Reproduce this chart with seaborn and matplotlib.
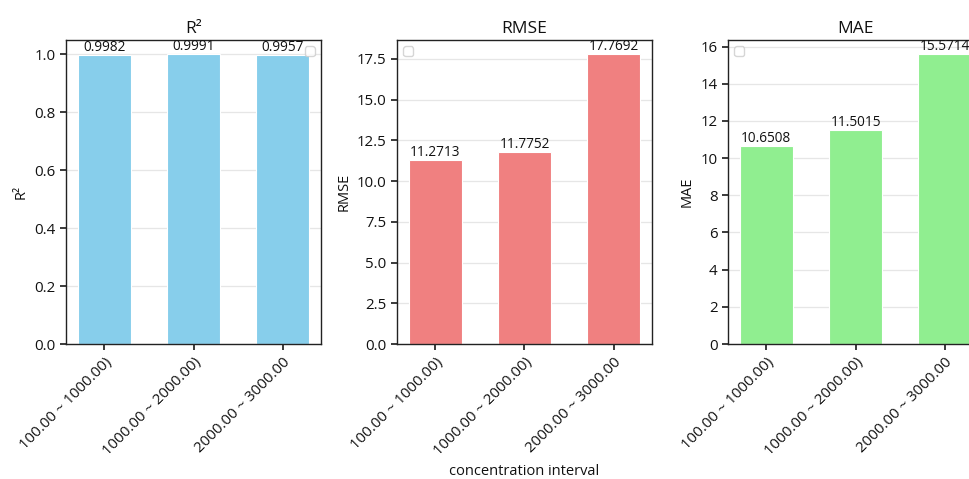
import matplotlib
matplotlib.use("Agg")
import matplotlib.pyplot as plt
import seaborn as sns
import pandas as pd

intervals = ["100.00 ~ 1000.00)", "1000.00 ~ 2000.00)", "2000.00 ~ 3000.00"]
r2_values = [0.9982, 0.9991, 0.9957]
rmse_values = [11.2713, 11.7752, 17.7692]
mae_values = [10.6508, 11.5015, 15.5714]

metrics = ["R²", "RMSE", "MAE"]
colors = ["skyblue", "lightcoral", "lightgreen"]
legend_locs = ["upper right", "upper left", "upper left"]

sns.set_theme(style="ticks")
plt.rcParams["font.family"] = ["Open Sans", "DejaVu Sans"]
plt.rcParams["text.color"] = "#111111"
plt.rcParams["axes.labelcolor"] = "#111111"
plt.rcParams["axes.edgecolor"] = "#222222"
plt.rcParams["xtick.color"] = "#222222"
plt.rcParams["ytick.color"] = "#222222"
plt.rcParams["xtick.labelcolor"] = "#111111"
plt.rcParams["ytick.labelcolor"] = "#111111"

fig = plt.figure(figsize=(9.69, 4.79), dpi=100)
W = 969.0
H = 479.0
lefts = [66 / W, 397 / W, 728 / W]

for i, (metric, vals, color, loc) in enumerate(
    zip(metrics, [r2_values, rmse_values, mae_values], colors, legend_locs)
):
    ax = fig.add_axes([lefts[i], (H - 344) / H, 255 / W, 304 / H])
    df = pd.DataFrame({"interval": intervals, "value": vals})
    sns.barplot(data=df, x="interval", y="value", color=color, width=0.6,
                saturation=1, edgecolor="white", linewidth=0.8, ax=ax, zorder=2)
    ax.set_xlim(-0.43, 2.43)
    ax.set_ylim(0, max(vals) * 1.05)
    ax.yaxis.grid(True, color="#e6e6e6", linewidth=0.9, zorder=0)
    ax.set_axisbelow(True)
    for spine in ax.spines.values():
        spine.set_visible(True)
        spine.set_linewidth(1.0)
    for p, v in zip(ax.patches, vals):
        ax.text(p.get_x() + p.get_width() / 2, v, f"{v:.4f}",
                ha="center", va="bottom", fontsize=9.8, color="#111111")
    ax.set_title(metric, fontsize=12.5, pad=5)
    ax.set_ylabel(metric, fontsize=10.5)
    ax.set_xlabel("concentration interval" if i == 1 else "", fontsize=10.5)
    ax.tick_params(axis="both", labelsize=10.8, length=4)
    plt.setp(ax.get_xticklabels(), rotation=45, ha="right", rotation_mode="anchor")
    ax.legend(handles=[], labels=[], loc=loc, frameon=True, fontsize=9)

fig.savefig("out.png", dpi=100)
